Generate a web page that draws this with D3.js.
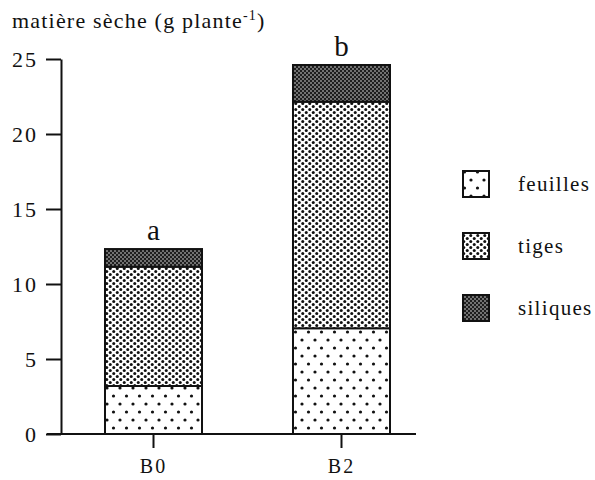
<!DOCTYPE html>
<html><head><meta charset="utf-8">
<script src="https://cdn.jsdelivr.net/npm/d3@7"></script>
<style>
body{margin:0;background:#fff;}
</style></head>
<body><svg id="c" width="595" height="480"></svg>
<script>
const categories = ["B0", "B2"];
const seriesNames = ["feuilles", "tiges", "siliques"];
const feuilles = [3.2, 7.05];
const tiges = [7.95, 15.1];
const siliques = [1.18, 2.45];
const letters = ["a", "b"];
const yTicks = [0, 5, 10, 15, 20, 25];

const FONT = "Liberation Serif, Times New Roman, serif";
const svg = d3.select("#c");
const defs = svg.append("defs");

// patterns
const p1 = defs.append("pattern").attr("id","pf").attr("patternUnits","userSpaceOnUse").attr("width",13).attr("height",16);
p1.append("rect").attr("width",13).attr("height",16).attr("fill","#fff");
p1.append("circle").attr("cx",3).attr("cy",4).attr("r",1.6).attr("fill","#111");
p1.append("circle").attr("cx",9.5).attr("cy",12).attr("r",1.6).attr("fill","#111");

const p2 = defs.append("pattern").attr("id","pt").attr("patternUnits","userSpaceOnUse").attr("width",7).attr("height",6);
p2.append("rect").attr("width",7).attr("height",6).attr("fill","#fff");
p2.append("circle").attr("cx",1.75).attr("cy",1.5).attr("r",1.5).attr("fill","#111");
p2.append("circle").attr("cx",5.25).attr("cy",4.5).attr("r",1.5).attr("fill","#111");

const p3 = defs.append("pattern").attr("id","ps").attr("patternUnits","userSpaceOnUse").attr("width",4).attr("height",4);
p3.append("rect").attr("width",4).attr("height",4).attr("fill","#1e1e1e");
p3.append("circle").attr("cx",1).attr("cy",1).attr("r",0.8).attr("fill","#ddd");
p3.append("circle").attr("cx",3).attr("cy",3).attr("r",0.8).attr("fill","#ddd");

const fills = {feuilles:"url(#pf)", tiges:"url(#pt)", siliques:"url(#ps)"};

const y = d3.scaleLinear().domain([0,25]).range([434,59]);
const x = d3.scaleBand().domain(categories).range([58,437]).paddingInner(0.484).paddingOuter(0.25);
const axisX = 61;

const rows = categories.map((c,i)=>({cat:c, feuilles:feuilles[i], tiges:tiges[i], siliques:siliques[i], letter:letters[i]}));
const stack = d3.stack().keys(seriesNames)(rows);

const g = svg.append("g");
stack.forEach(layer=>{
  g.selectAll(null).data(layer).enter().append("rect")
    .attr("x", d=>x(d.data.cat))
    .attr("width", x.bandwidth())
    .attr("y", d=>y(d[1]))
    .attr("height", d=>y(d[0])-y(d[1]))
    .attr("fill", fills[layer.key])
    .attr("stroke","#111").attr("stroke-width",2);
});

// letters
g.selectAll(null).data(rows).enter().append("text")
  .attr("x", d=>x(d.cat)+x.bandwidth()/2)
  .attr("y", d=>y(d.feuilles+d.tiges+d.siliques)-9)
  .attr("text-anchor","middle").style("font-family",FONT).attr("font-size",29).attr("fill","#111").text(d=>d.letter);

// y axis
const ya = svg.append("g").attr("transform",`translate(${axisX},0)`)
  .call(d3.axisLeft(y).tickValues(yTicks).tickSize(15).tickSizeOuter(0).tickPadding(8));
ya.select(".domain").attr("stroke","#111").attr("stroke-width",2);
ya.selectAll(".tick line").attr("stroke","#111").attr("stroke-width",2);
ya.selectAll(".tick text").style("font-family",FONT).attr("font-size",22).attr("letter-spacing",2).attr("fill","#111");

// x axis
const xa = svg.append("g").attr("transform",`translate(0,${y(0)})`)
  .call(d3.axisBottom(x).tickSize(14).tickSizeOuter(0).tickPadding(11));
xa.select(".domain").remove();
xa.selectAll(".tick line").attr("stroke","#111").attr("stroke-width",2);
xa.selectAll(".tick text").style("font-family",FONT).attr("font-size",20).attr("letter-spacing",2).attr("fill","#111");
svg.append("line").attr("x1",axisX-14).attr("x2",416).attr("y1",y(0)).attr("y2",y(0))
  .attr("stroke","#111").attr("stroke-width",2);

// title
const t = svg.append("text").attr("x",12).attr("y",28).style("font-family",FONT).attr("font-size",22).attr("letter-spacing",1.2).attr("fill","#111");
t.append("tspan").text("matière sèche (g plante");
t.append("tspan").attr("font-size",14).attr("dy",-8).text("-1");
t.append("tspan").attr("dy",8).text(")");

// legend
const lg = svg.append("g");
seriesNames.forEach((s,i)=>{
  const yy = 171 + i*62;
  lg.append("rect").attr("x",463).attr("y",yy).attr("width",26).attr("height",26)
    .attr("fill",fills[s]).attr("stroke","#111").attr("stroke-width",2);
  lg.append("text").attr("x",518).attr("y",yy+20).style("font-family",FONT).attr("font-size",21).attr("letter-spacing",1.3).attr("fill","#111").text(s);
});
</script></body></html>
